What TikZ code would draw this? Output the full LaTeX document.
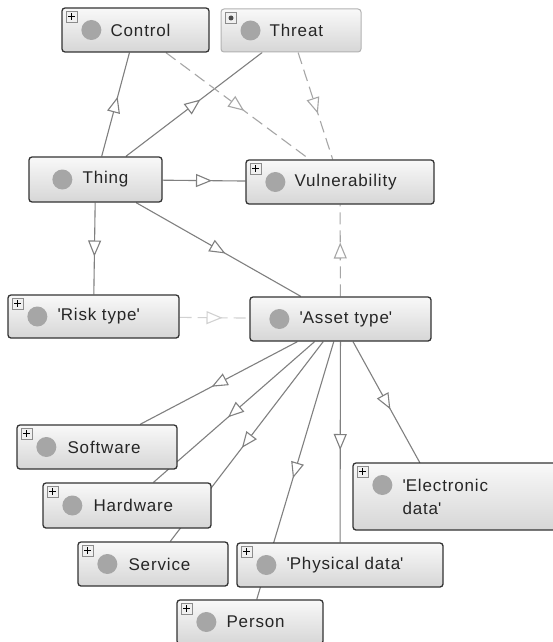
\documentclass[tikz,border=0pt]{standalone}
\usepackage{fontspec}
\setmainfont{Liberation Sans}[LetterSpace=5]
\usetikzlibrary{arrows.meta,decorations.markings,backgrounds}

\tikzset{
  obj/.style={rectangle, rounded corners=3pt, draw=black!80, line width=1.3pt,
    top color=gray!5, bottom color=gray!32, inner sep=0pt},
  objlight/.style={draw=black!30, line width=1pt},
  lab/.style={anchor=west, inner sep=0pt, font=\fontsize{17}{23}\selectfont, text=black!85, align=left},
  icon/.style={fill=gray!70},
  pframe/.style={draw=black!45, fill=gray!12, line width=0.8pt},
  pcross/.style={draw=black, line width=1.1pt},
  isa/.style={draw=black!50, line width=1.1pt, postaction={decorate},
    decoration={markings, mark=at position 0.5 with {\arrow[xshift=8pt]{Triangle[length=16pt,width=13pt,fill=white]}}}},
  dashisa/.style={isa, draw=black!35, dash pattern=on 12pt off 6pt},
  faintisa/.style={isa, draw=black!18, dash pattern=on 12pt off 6pt},
}

\newcommand{\objbox}[6][]{\node[obj,#1,minimum width=#5pt,minimum height=#6pt] (#2) at (#3,#4) {};}
\newcommand{\objlab}[4]{%
  \fill[icon] ([xshift=#2pt]#1.west) circle (10pt);
  \node[lab] (#1-t) at ([xshift=#3pt]#1.west) {#4};}
\newcommand{\objplus}[1]{%
  \draw[pframe] ([xshift=5pt,yshift=-4pt]#1.north west) rectangle ++(11pt,-11pt);
  \draw[pcross] ([xshift=7pt,yshift=-9.5pt]#1.north west) -- ++(7pt,0pt)
                ([xshift=10.5pt,yshift=-6pt]#1.north west) -- ++(0pt,-7pt);}

\begin{document}
\begin{tikzpicture}[x=1pt,y=-1pt]
\useasboundingbox (0,0) rectangle (552,642);

% boxes
\objbox{control}{135.5}{30}{147}{44}
\objbox[objlight]{threat}{291}{30.5}{140}{43}
\objbox{thing}{95.5}{179.5}{133}{45}
\objbox{vuln}{340}{182}{188}{44}
\objbox{risk}{93.5}{316.5}{171}{43}
\objbox{asset}{340.5}{319}{181}{44}
\objbox{software}{97}{447}{160}{44}
\objbox{elec}{456.5}{496.5}{207}{67}
\objbox{hardware}{127}{505.5}{168}{45}
\objbox{service}{153}{564}{150}{44}
\objbox{physical}{340}{565}{206}{44}
\objbox{person}{250}{622}{146}{44}
\coordinate (elecin) at (420,463);

% labels
\objlab{control}{30}{49}{Control}
\objlab{threat}{30}{49}{Threat}
\objlab{thing}{34}{54}{Thing}
\objlab{vuln}{30}{49}{Vulnerability}
\objlab{risk}{30}{50}{\textquotesingle Risk type\textquotesingle}
\objlab{asset}{30}{50}{\textquotesingle Asset type\textquotesingle}
\objlab{software}{30}{51}{Software}
\objlab{hardware}{30}{51}{Hardware}
\objlab{service}{30}{51}{Service}
\objlab{physical}{30}{50}{\textquotesingle Physical data\textquotesingle}
\objlab{person}{30}{50}{Person}
\fill[icon] ([xshift=30pt,yshift=11.5pt]elec.west) circle (10pt);
\node[lab] (elec-t) at ([xshift=50pt]elec.west) {\textquotesingle Electronic\\data\textquotesingle};

% expand icons
\objplus{control}
\draw[pframe] ([xshift=5pt,yshift=-4pt]threat.north west) rectangle ++(11pt,-11pt);
\fill[black!70] ([xshift=10.5pt,yshift=-9.5pt]threat.north west) circle (2.5pt);
\objplus{vuln}
\objplus{risk}
\objplus{software}
\objplus{hardware}
\objplus{service}
\objplus{physical}
\objplus{elec}
\objplus{person}

% connectors
\begin{pgfonlayer}{background}
\fill[white] (0,0) rectangle (552,642);
\draw[isa] (thing) -- (control);
\draw[isa] (thing) -- (threat);
\draw[dashisa] (control) -- (vuln);
\draw[dashisa] (threat) -- (vuln);
\draw[isa] (thing) -- (vuln);
\draw[isa] (thing) -- (risk);
\draw[isa] (thing) -- (asset);
\draw[dashisa] (asset) -- (vuln);
\draw[faintisa] (risk) -- (asset);
\draw[isa] (asset) -- (software);
\draw[isa] (asset) -- (hardware);
\draw[isa] (asset) -- (service);
\draw[isa] (asset) -- (person);
\draw[isa] (asset) -- (physical);
\draw[isa] (asset) -- (elecin);
\end{pgfonlayer}
\end{tikzpicture}
\end{document}
